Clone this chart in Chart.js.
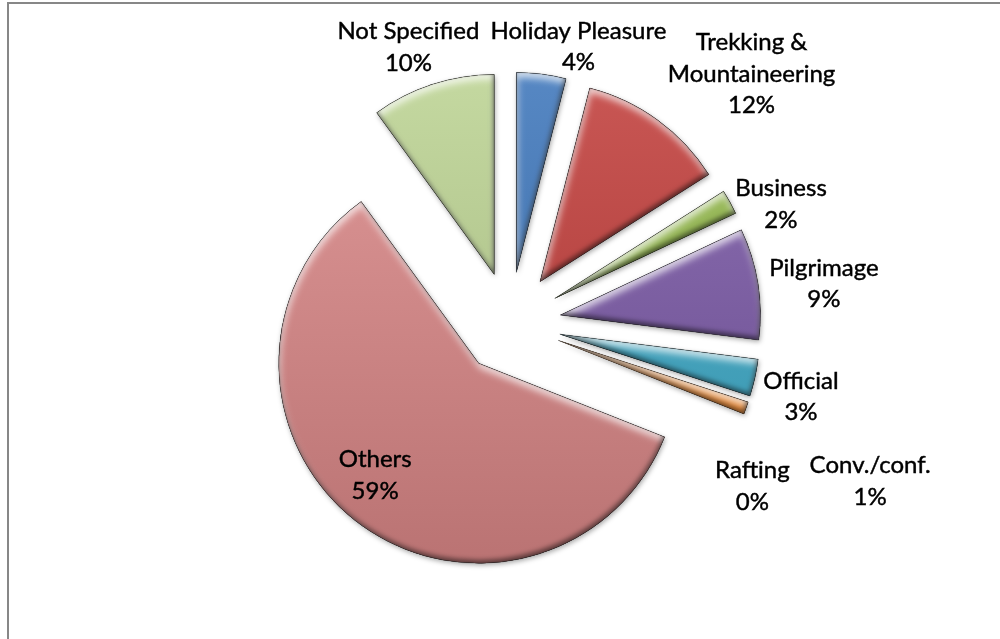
<!DOCTYPE html>
<html>
<head>
<meta charset="utf-8">
<script src="https://cdn.jsdelivr.net/npm/chart.js@4"></script>
<style>
  html, body { margin: 0; padding: 0; background: #fff; }
  #wrap { position: relative; width: 1000px; height: 639px; overflow: hidden; }
  #frame {
    position: absolute; left: 7px; top: 2px; width: 1100px; height: 800px;
    border-left: 2px solid #878787; border-top: 2px solid #878787;
  }
  canvas { position: absolute; left: 0; top: 0; }
</style>
</head>
<body>
<div id="wrap">
  <div id="frame"></div>
  <canvas id="purposeChart" width="1000" height="639"></canvas>
</div>
<script>
// tourist arrivals by purpose of visit (%)
const purposes = ["Holiday Pleasure", "Trekking &\nMountaineering", "Business", "Pilgrimage",
  "Official", "Conv./conf.", "Rafting", "Others", "Not Specified"];
const shares = [4, 12, 2, 9, 3, 1, 0, 59, 10];

const sliceColors = ["#3F77BB", "#C13F3C", "#93B84C", "#7A59A5", "#3DA7C4", "#F48A2F",
  "#8DB3E2", "#D48383", "#BCD393"];

// label nudges (px) from the outer middle of each slice
const labelNudge = [[37, -27], [94, -46], [51, 2], [66, 0], [46, 19], [124, 73], [9, 71], [19, -46], [-24, -37]];

const EXPLODE = 51;
const LINE_H = 31.5;

// push every slice out along its bisector
const explode = {
  id: "explode",
  afterDatasetUpdate(chart, args) {
    chart.getDatasetMeta(args.index).data.forEach((arc) => {
      const mid = (arc.startAngle + arc.endAngle) / 2;
      arc.x += Math.cos(mid) * EXPLODE;
      arc.y += Math.sin(mid) * EXPLODE;
    });
  },
};

function slicePath(ctx, a) {
  ctx.moveTo(a.x, a.y);
  ctx.arc(a.x, a.y, a.outerRadius, a.startAngle, a.endAngle);
  ctx.closePath();
}

// soft drop shadow under the slices, bevel light/dark edges on top
const bevel = {
  id: "bevel",
  beforeDatasetDraw(chart) {
    const ctx = chart.ctx;
    ctx.save();
    ctx.shadowColor = "rgba(0,0,0,0.35)";
    ctx.shadowBlur = 5;
    ctx.shadowOffsetX = 1;
    ctx.shadowOffsetY = 2;
  },
  afterDatasetDraw(chart, args) {
    const ctx = chart.ctx;
    ctx.restore();
    chart.getDatasetMeta(args.index).data.forEach((a) => {
      if (a.endAngle - a.startAngle <= 0) return;
      const r = a.outerRadius;
      ctx.save();
      ctx.beginPath();
      slicePath(ctx, a);
      ctx.clip();

      // overall lighting, lighter on top
      const g = ctx.createLinearGradient(0, a.y - r, 0, a.y + r);
      g.addColorStop(0, "rgba(255,255,255,0.12)");
      g.addColorStop(1, "rgba(0,0,0,0.12)");
      ctx.fillStyle = g;
      ctx.fillRect(a.x - r, a.y - r, 2 * r, 2 * r);

      // inner shadows: highlight on top edges, dark on bottom edges
      const passes = [
        ["rgba(255,255,255,0.75)", 1, 5, 7],
        ["rgba(0,0,0,0.55)", -1, -3, 5],
      ];
      passes.forEach(([col, ox, oy, blur]) => {
        ctx.beginPath();
        ctx.rect(-3000, -3000, 7000, 7000);
        slicePath(ctx, a);
        ctx.shadowColor = col;
        ctx.shadowBlur = blur;
        ctx.shadowOffsetX = ox;
        ctx.shadowOffsetY = oy;
        ctx.fillStyle = "#000";
        ctx.fill("evenodd");
      });
      ctx.restore();

      ctx.save();
      ctx.beginPath();
      slicePath(ctx, a);
      ctx.strokeStyle = "rgba(0,0,0,0.3)";
      ctx.lineWidth = 0.8;
      ctx.stroke();
      ctx.restore();
    });
  },
};

// category name and share, placed outside each slice
const sliceLabels = {
  id: "sliceLabels",
  afterDraw(chart) {
    const ctx = chart.ctx;
    ctx.save();
    ctx.font = "24px Lato";
    ctx.fillStyle = "#000";
    ctx.strokeStyle = "#000";
    ctx.lineWidth = 0.45;
    ctx.textAlign = "center";
    ctx.textBaseline = "middle";
    chart.getDatasetMeta(0).data.forEach((a, i) => {
      const mid = (a.startAngle + a.endAngle) / 2;
      const x = a.x + Math.cos(mid) * a.outerRadius + labelNudge[i][0];
      const y = a.y + Math.sin(mid) * a.outerRadius + labelNudge[i][1];
      const lines = purposes[i].split("\n").concat(shares[i] + "%");
      const top = y - ((lines.length - 1) * LINE_H) / 2;
      lines.forEach((t, k) => {
        ctx.fillText(t, x, top + k * LINE_H);
        ctx.strokeText(t, x, top + k * LINE_H);
      });
    });
    ctx.restore();
  },
};

new Chart(document.getElementById("purposeChart"), {
  type: "pie",
  data: {
    labels: purposes,
    datasets: [
      {
        data: shares,
        backgroundColor: sliceColors,
        borderWidth: 0,
        hoverOffset: 0,
      },
    ],
  },
  options: {
    responsive: false,
    animation: false,
    events: [],
    radius: 200,
    layout: { padding: { left: 20, top: 7, right: 0, bottom: 0 } },
    plugins: {
      legend: { display: false },
      tooltip: { enabled: false },
    },
  },
  plugins: [explode, bevel, sliceLabels],
});
</script>
</body>
</html>
